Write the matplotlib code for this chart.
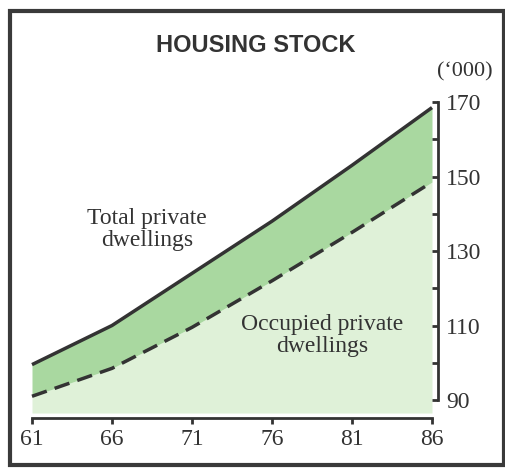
import numpy as np
import matplotlib
matplotlib.use("Agg")
import matplotlib.pyplot as plt
from matplotlib.patches import Rectangle

# census years (19xx) and housing stock in thousands
years = [61, 66, 71, 76, 81, 86]
total = [99.5, 110, 124, 138, 153, 168.5]
occupied = [91, 98.5, 109.5, 122, 135, 148.5]
xtick_labels = ["61", "66", "71", "76", "81", "86"]
ytick_major = [90, 110, 130, 150, 170]
ytick_minor = [100, 120, 140, 160]

ink = "#333333"
dark_green = "#a9d8a0"
light_green = "#dff1d8"

fig = plt.figure(figsize=(5.05, 4.69), dpi=100)
ax = fig.add_axes([32/505, 51/469, 400/505, 316/469])

base = 86.5
ax.fill_between(years, base, occupied, color=light_green, lw=0)
ax.fill_between(years, occupied, total, color=dark_green, lw=0)
ax.plot(years, total, color=ink, lw=2.5, solid_capstyle="butt", clip_on=False)
ax.plot(years, occupied, color=ink, lw=2.5, ls=(0, (4.5, 2.4)), dash_capstyle="butt", clip_on=False)

ax.set_xlim(61, 86)
ax.set_ylim(85.17, 170)

for s in ["top", "left"]:
    ax.spines[s].set_visible(False)
ax.spines["bottom"].set_color(ink)
ax.spines["bottom"].set_linewidth(2)
ax.spines["right"].set_color(ink)
ax.spines["right"].set_linewidth(2)
ax.spines["right"].set_position(("outward", 4))
ax.spines["right"].set_bounds(90, 170)

ax.set_xticks(years)
ax.set_xticklabels(xtick_labels)
ax.yaxis.tick_right()
ax.set_yticks(ytick_major)
ax.set_yticks(ytick_minor, minor=True)
ax.tick_params(axis="x", direction="out", length=4, width=2, color=ink, pad=4,
               labelsize=17, labelcolor=ink)
ax.tick_params(axis="y", which="both", direction="in", length=4, width=2, color=ink,
               pad=6, labelsize=17, labelcolor=ink)
for lab in ax.get_xticklabels() + ax.get_yticklabels():
    lab.set_family("Liberation Serif")

fig.text(0.291, 0.511, "Total private\ndwellings",
         ha="center", va="center", family="Liberation Serif", fontsize=17,
         color=ink, linespacing=1.05)
fig.text(0.638, 0.284, "Occupied private\ndwellings",
         ha="center", va="center", family="Liberation Serif", fontsize=17,
         color=ink, linespacing=1.05)
fig.text(0.920, 0.846, "(\u2018000)", ha="center", va="center",
         family="Liberation Serif", fontsize=16, color=ink)
fig.text(0.507, 0.902, "HOUSING STOCK", ha="center", va="center",
         family="Liberation Sans", fontweight="bold", fontsize=17, color=ink)

fig.patches.append(Rectangle((10/505, 4/469), 494/505, 454/469,
                             transform=fig.transFigure, fill=False,
                             edgecolor="#3a3a3a", lw=3))

fig.savefig("out.png", dpi=100)
